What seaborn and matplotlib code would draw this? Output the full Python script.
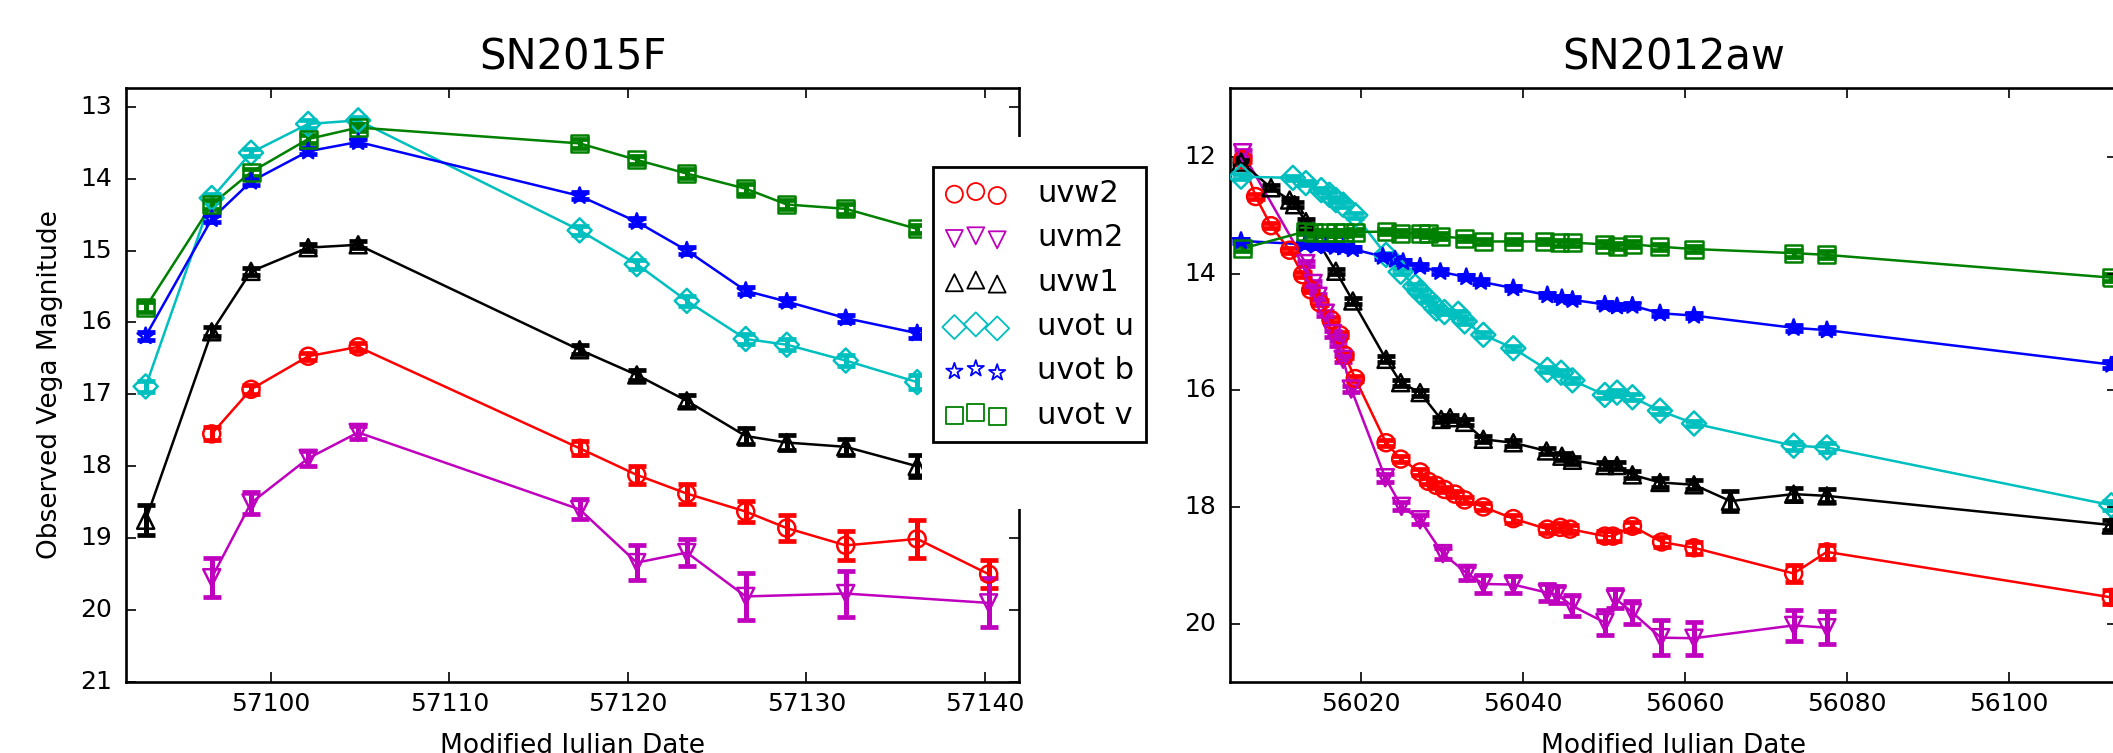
import numpy as np
import pandas as pd
import seaborn as sns
import matplotlib.pyplot as plt
from matplotlib.patches import Rectangle

plt.style.use("classic")
plt.rcParams.update({
    "figure.facecolor": "white",
    "savefig.facecolor": "white",
    "font.family": ["DejaVu Sans"],
    "axes.formatter.useoffset": False,
})

# BANDS AND STYLES
BANDS = ["uvw2", "uvm2", "uvw1", "uvot u", "uvot b", "uvot v"]
COLORS = ["r", "m", "k", "c", "b", "g"]
MARKERS = ["o", "v", "^", "D", "*", "s"]

# SN2015F light curves (MJD, Vega mag, error)
f15_w2_t = [57096.7, 57098.9, 57102.1, 57104.9, 57117.3, 57120.5, 57123.3, 57126.6, 57128.9, 57132.2, 57136.2, 57140.2]
f15_w2_m = [17.55, 16.93, 16.47, 16.34, 17.75, 18.12, 18.38, 18.63, 18.86, 19.10, 19.01, 19.50]
f15_w2_e = [0.09, 0.06, 0.05, 0.06, 0.10, 0.13, 0.14, 0.15, 0.18, 0.20, 0.26, 0.19]

f15_m2_t = [57096.7, 57098.9, 57102.1, 57104.9, 57117.3, 57120.5, 57123.3, 57126.6, 57132.2, 57140.2]
f15_m2_m = [19.55, 18.51, 17.89, 17.53, 18.60, 19.34, 19.20, 19.81, 19.77, 19.90]
f15_m2_e = [0.27, 0.15, 0.10, 0.09, 0.14, 0.24, 0.19, 0.33, 0.32, 0.34]

f15_w1_t = [57093.0, 57096.7, 57098.9, 57102.1, 57104.9, 57117.3, 57120.5, 57123.3, 57126.6, 57128.9, 57132.2, 57136.2]
f15_w1_m = [18.75, 16.13, 15.29, 14.96, 14.92, 16.38, 16.73, 17.09, 17.58, 17.67, 17.73, 18.00]
f15_w1_e = [0.21, 0.06, 0.05, 0.05, 0.05, 0.06, 0.07, 0.08, 0.11, 0.11, 0.11, 0.15]

f15_u_t = [57093.0, 57096.7, 57098.9, 57102.1, 57104.9, 57117.3, 57120.5, 57123.3, 57126.6, 57128.9, 57132.2, 57136.2]
f15_u_m = [16.89, 14.27, 13.64, 13.24, 13.19, 14.72, 15.19, 15.70, 16.23, 16.31, 16.53, 16.83]
f15_u_e = [0.08, 0.05, 0.05, 0.05, 0.05, 0.06, 0.06, 0.07, 0.07, 0.08, 0.08, 0.10]

f15_b_t = [57093.0, 57096.7, 57098.9, 57102.1, 57104.9, 57117.3, 57120.5, 57123.3, 57126.6, 57128.9, 57132.2, 57136.2]
f15_b_m = [16.19, 14.56, 14.04, 13.62, 13.49, 14.24, 14.60, 15.00, 15.56, 15.71, 15.94, 16.15]
f15_b_e = [0.06, 0.05, 0.05, 0.04, 0.04, 0.05, 0.05, 0.05, 0.05, 0.05, 0.05, 0.06]

f15_v_t = [57093.0, 57096.7, 57098.9, 57102.1, 57104.9, 57117.3, 57120.5, 57123.3, 57126.6, 57128.9, 57132.2, 57136.2]
f15_v_m = [15.79, 14.36, 13.91, 13.45, 13.29, 13.51, 13.74, 13.93, 14.14, 14.36, 14.42, 14.70]
f15_v_e = [0.07, 0.06, 0.05, 0.05, 0.05, 0.06, 0.06, 0.06, 0.07, 0.06, 0.07, 0.06]

# SN2012aw light curves
a12_w2_t = [56005.4, 56007.0, 56008.9, 56011.2, 56012.8, 56013.8, 56014.9, 56016.3, 56017.4, 56018.0, 56019.3,
            56023.1, 56024.9, 56027.3, 56028.3, 56029.3, 56030.3, 56031.6, 56032.8, 56035.1, 56038.8, 56043.0,
            56044.6, 56045.8, 56050.1, 56051.1, 56053.5, 56057.1, 56061.1, 56073.4, 56077.5, 56112.6]
a12_w2_m = [12.05, 12.68, 13.18, 13.60, 14.02, 14.28, 14.50, 14.79, 15.05, 15.40, 15.80,
            16.90, 17.18, 17.40, 17.56, 17.63, 17.70, 17.78, 17.88, 18.00, 18.20, 18.38,
            18.35, 18.38, 18.50, 18.50, 18.33, 18.60, 18.70, 19.14, 18.77, 19.55]
a12_w2_e = [0.04, 0.04, 0.04, 0.04, 0.04, 0.04, 0.04, 0.04, 0.04, 0.04, 0.05,
            0.05, 0.05, 0.05, 0.05, 0.05, 0.05, 0.05, 0.05, 0.06, 0.07, 0.07,
            0.07, 0.07, 0.08, 0.08, 0.08, 0.09, 0.10, 0.15, 0.12, 0.12]

a12_m2_t = [56005.4, 56013.2, 56014.1, 56014.7, 56015.6, 56016.5, 56017.2, 56017.8, 56018.8, 56023.0, 56025.0,
            56027.3, 56030.1, 56033.1, 56035.1, 56038.8, 56043.0, 56044.2, 56046.0, 56050.1, 56051.4, 56053.5,
            56057.0, 56061.1, 56073.4, 56077.5]
a12_m2_m = [11.93, 13.83, 14.17, 14.39, 14.68, 15.03, 15.20, 15.47, 15.98, 17.50, 17.99,
            18.22, 18.80, 19.14, 19.32, 19.33, 19.47, 19.50, 19.69, 19.98, 19.57, 19.81,
            20.24, 20.25, 20.03, 20.07]
a12_m2_e = [0.04, 0.04, 0.04, 0.04, 0.04, 0.05, 0.05, 0.05, 0.05, 0.07, 0.07,
            0.08, 0.10, 0.12, 0.15, 0.14, 0.15, 0.15, 0.18, 0.21, 0.16, 0.19,
            0.30, 0.28, 0.26, 0.28]

a12_w1_t = [56005.2, 56008.9, 56011.2, 56011.8, 56013.2, 56016.9, 56019.0, 56023.1, 56024.9, 56027.3, 56029.9,
            56031.0, 56032.8, 56035.1, 56038.8, 56042.9, 56044.8, 56046.1, 56050.1, 56051.6, 56053.5, 56056.9,
            56061.1, 56065.6, 56073.4, 56077.5, 56112.6]
a12_w1_m = [12.09, 12.53, 12.74, 12.82, 13.11, 13.96, 14.47, 15.47, 15.87, 16.04, 16.50,
            16.47, 16.55, 16.84, 16.90, 17.04, 17.13, 17.20, 17.29, 17.29, 17.45, 17.58,
            17.62, 17.90, 17.78, 17.81, 18.31]
a12_w1_e = [0.04, 0.04, 0.04, 0.04, 0.04, 0.04, 0.05, 0.05, 0.05, 0.05, 0.05,
            0.05, 0.05, 0.05, 0.05, 0.05, 0.06, 0.06, 0.06, 0.06, 0.06, 0.07,
            0.08, 0.17, 0.11, 0.11, 0.09]

a12_u_t = [56005.2, 56011.6, 56013.2, 56015.1, 56016.1, 56016.9, 56017.8, 56019.3, 56023.1, 56024.9, 56026.7,
           56027.3, 56028.3, 56029.3, 56030.3, 56032.0, 56032.8, 56035.1, 56038.8, 56043.0, 56044.7, 56046.1,
           56050.1, 56051.6, 56053.5, 56056.9, 56061.1, 56073.4, 56077.5, 56112.6]
a12_u_m = [12.34, 12.36, 12.45, 12.57, 12.65, 12.74, 12.82, 13.00, 13.68, 13.97, 14.22,
           14.32, 14.45, 14.60, 14.66, 14.69, 14.82, 15.05, 15.28, 15.65, 15.70, 15.83,
           16.08, 16.04, 16.12, 16.35, 16.57, 16.95, 16.98, 17.97]
a12_u_e = [0.04] * 22 + [0.05, 0.05, 0.05, 0.05, 0.05, 0.07, 0.07, 0.08]

a12_b_t = [56005.2, 56013.1, 56014.4, 56015.7, 56016.8, 56017.8, 56019.0, 56022.7, 56024.2, 56025.2, 56027.3,
           56029.8, 56033.0, 56034.8, 56038.8, 56043.0, 56044.8, 56046.1, 56050.1, 56051.6, 56053.5, 56056.9,
           56061.1, 56073.4, 56077.5, 56112.6]
a12_b_m = [13.44, 13.50, 13.52, 13.53, 13.54, 13.55, 13.58, 13.71, 13.76, 13.80, 13.88,
           13.97, 14.06, 14.14, 14.25, 14.37, 14.42, 14.45, 14.53, 14.56, 14.55, 14.68,
           14.72, 14.93, 14.97, 15.56]
a12_b_e = [0.04] * 23 + [0.05, 0.05, 0.06]

a12_v_t = [56005.4, 56013.1, 56014.1, 56015.6, 56016.8, 56018.0, 56019.3, 56023.1, 56024.9, 56027.3, 56028.3,
           56029.8, 56032.8, 56035.1, 56038.8, 56042.7, 56044.5, 56046.1, 56050.1, 56051.6, 56053.5, 56056.9,
           56061.1, 56073.4, 56077.5, 56112.6]
a12_v_m = [13.57, 13.28, 13.30, 13.30, 13.30, 13.30, 13.29, 13.28, 13.31, 13.31, 13.32,
           13.36, 13.40, 13.45, 13.45, 13.45, 13.47, 13.47, 13.50, 13.53, 13.50, 13.54,
           13.58, 13.65, 13.68, 14.07]
a12_v_e = [0.05] * 23 + [0.06, 0.06, 0.06]


def make_frame(series):
    frames = []
    for band, t, m, e in zip(BANDS, *series):
        frames.append(pd.DataFrame({"mjd": t, "mag": m, "err": e, "band": band}))
    return pd.concat(frames, ignore_index=True)


sn15 = make_frame([
    [f15_w2_t, f15_m2_t, f15_w1_t, f15_u_t, f15_b_t, f15_v_t],
    [f15_w2_m, f15_m2_m, f15_w1_m, f15_u_m, f15_b_m, f15_v_m],
    [f15_w2_e, f15_m2_e, f15_w1_e, f15_u_e, f15_b_e, f15_v_e],
])
sn12 = make_frame([
    [a12_w2_t, a12_m2_t, a12_w1_t, a12_u_t, a12_b_t, a12_v_t],
    [a12_w2_m, a12_m2_m, a12_w1_m, a12_u_m, a12_b_m, a12_v_m],
    [a12_w2_e, a12_m2_e, a12_w1_e, a12_u_e, a12_b_e, a12_v_e],
])

# FIGURE LAYOUT (pixel based)
W, H = 2113, 753
fig = plt.figure(figsize=(W / 100, H / 100), dpi=100)
ax1 = fig.add_axes([126 / W, 1 - 682 / H, (1019 - 126) / W, (682 - 88) / H])
ax2 = fig.add_axes([1230 / W, 1 - 682 / H, (2117 - 1230) / W, (682 - 88) / H])


def draw(ax, df):
    for band, col, mk in zip(BANDS, COLORS, MARKERS):
        sub = df[df["band"] == band]
        sns.lineplot(data=sub, x="mjd", y="mag", color=col, lw=1.8, ax=ax,
                     errorbar=None, legend=False, sort=False)
        ax.errorbar(sub["mjd"], sub["mag"], yerr=sub["err"], fmt="none", ecolor=col,
                    elinewidth=3.6, capsize=6.5, capthick=3.4, zorder=2)
        sns.scatterplot(data=sub, x="mjd", y="mag", marker=mk, s=150, color=col,
                        facecolor="none", edgecolor=col, linewidth=1.8, ax=ax,
                        label=band, legend=False, zorder=3)
    if ax.get_legend() is not None:
        ax.get_legend().remove()


draw(ax1, sn15)
draw(ax2, sn12)

for ax in (ax1, ax2):
    ax.ticklabel_format(useOffset=False, style="plain")
    ax.tick_params(labelsize=18, length=7.5, width=1.2, direction="in", top=True, right=True)
    ax.tick_params(axis="x", pad=7)
    ax.tick_params(axis="y", pad=10)
    for sp in ax.spines.values():
        sp.set_linewidth(1.9)
    ax.set_xlabel("Modified Julian Date", fontsize=19)
    ax.xaxis.set_label_coords(0.5, -0.086)

ax1.set_xlim(57091.9, 57141.9)
ax1.set_ylim(21, 12.74)
ax1.set_xticks([57100, 57110, 57120, 57130, 57140])
ax1.set_yticks(range(13, 22))
ax1.set_ylabel("Observed Vega Magnitude", fontsize=19)
ax1.yaxis.set_label_coords(-0.0705, 0.5)
ax1.set_title("SN2015F", fontsize=30, pad=13)

ax2.set_xlim(56003.84, 56113.3)
ax2.set_ylim(21, 10.82)
ax2.set_xticks([56020, 56040, 56060, 56080, 56100])
ax2.set_yticks([12, 14, 16, 18, 20])
ax2.set_ylabel("")
ax2.set_title("SN2012aw", fontsize=30, pad=13)

# white panel behind the legend, covering part of the left frame
fig.add_artist(Rectangle((922 / W, 1 - 509 / H), (1170 - 922) / W, (509 - 137) / H,
                         transform=fig.transFigure, facecolor="white",
                         edgecolor="none", zorder=5))

handles, labels = ax1.get_legend_handles_labels()
leg = fig.legend(handles, labels, loc="upper left", bbox_to_anchor=(933 / W, 1 - 167 / H),
                 borderaxespad=0, fontsize=22, scatterpoints=3, handlelength=2,
                 handletextpad=1.0, labelspacing=0.5, borderpad=0.4,
                 frameon=True, fancybox=False)
leg.set_zorder(6)
leg.get_frame().set_linewidth(2)
leg.get_frame().set_edgecolor("black")
for h in leg.legend_handles:
    h.set_linewidth(1.3)

fig.savefig("out.png", dpi=100)
